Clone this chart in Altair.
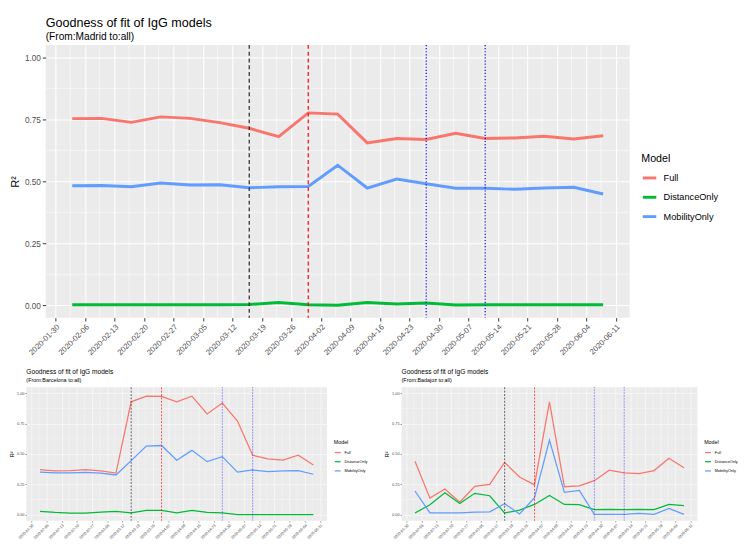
import altair as alt
import pandas as pd

FONT = "Liberation Sans"

dates = ["2020-02-03", "2020-02-10", "2020-02-17", "2020-02-24", "2020-03-02",
         "2020-03-09", "2020-03-16", "2020-03-23", "2020-03-30", "2020-04-06",
         "2020-04-13", "2020-04-20", "2020-04-27", "2020-05-04", "2020-05-11",
         "2020-05-18", "2020-05-25", "2020-06-01", "2020-06-08"]

models = ["Full", "DistanceOnly", "MobilityOnly"]
colors = ["#F8766D", "#00BA38", "#619CFF"]

madrid_full = [0.753, 0.754, 0.738, 0.760, 0.754, 0.737, 0.714, 0.680, 0.776, 0.771,
               0.655, 0.673, 0.669, 0.694, 0.673, 0.675, 0.682, 0.671, 0.684]
madrid_dist = [0.002, 0.002, 0.002, 0.002, 0.002, 0.002, 0.003, 0.011, 0.002, 0.000,
               0.011, 0.005, 0.009, 0.001, 0.002, 0.002, 0.002, 0.002, 0.002]
madrid_mob = [0.482, 0.483, 0.478, 0.493, 0.485, 0.486, 0.474, 0.478, 0.479, 0.565,
              0.473, 0.509, 0.490, 0.472, 0.472, 0.468, 0.473, 0.476, 0.449]

barcelona_full = [0.371, 0.360, 0.363, 0.372, 0.360, 0.343, 0.930, 0.977, 0.974, 0.930,
                  0.977, 0.830, 0.920, 0.772, 0.490, 0.460, 0.450, 0.490, 0.410]
barcelona_dist = [0.026, 0.018, 0.013, 0.013, 0.020, 0.026, 0.015, 0.036, 0.036, 0.015,
                  0.036, 0.018, 0.015, 0.001, 0.000, 0.000, 0.000, 0.000, 0.000]
barcelona_mob = [0.350, 0.345, 0.345, 0.348, 0.343, 0.327, 0.445, 0.565, 0.570, 0.448,
                 0.530, 0.437, 0.478, 0.350, 0.368, 0.355, 0.360, 0.363, 0.333]

badajoz_full = [0.440, 0.136, 0.212, 0.102, 0.233, 0.250, 0.430, 0.310, 0.245, 0.930,
                0.230, 0.238, 0.280, 0.366, 0.345, 0.338, 0.363, 0.465, 0.386]
badajoz_dist = [0.013, 0.082, 0.180, 0.092, 0.176, 0.156, 0.013, 0.038, 0.084, 0.158,
                0.084, 0.082, 0.041, 0.043, 0.041, 0.043, 0.041, 0.084, 0.074]
badajoz_mob = [0.195, 0.015, 0.015, 0.015, 0.020, 0.023, 0.090, 0.005, 0.140, 0.614,
               0.184, 0.200, 0.003, 0.003, 0.003, 0.010, 0.003, 0.051, 0.002]

tick_dates = ["2020-01-30", "2020-02-06", "2020-02-13", "2020-02-20", "2020-02-27",
              "2020-03-05", "2020-03-12", "2020-03-19", "2020-03-26", "2020-04-02",
              "2020-04-09", "2020-04-16", "2020-04-23", "2020-04-30", "2020-05-07",
              "2020-05-14", "2020-05-21", "2020-05-28", "2020-06-04", "2020-06-11"]
y_ticks = [0.0, 0.25, 0.5, 0.75, 1.0]
y_minor = [0.125, 0.375, 0.625, 0.875]

event_black = ["2020-03-16"]
event_red = ["2020-03-30"]
event_blue = ["2020-04-27", "2020-05-11"]


def ms(s):
    return int(pd.Timestamp(s, tz="UTC").value // 10**6)


t0, t1 = ms(dates[0]), ms(dates[-1])
pad = 0.05 * (t1 - t0)
x_domain = [t0 - pad, t1 + pad]
tick_ms = [ms(t) for t in tick_dates]
minor_ms = [(a + b) / 2 for a, b in zip(tick_ms[:-1], tick_ms[1:])]


def panel(city, full, dist, mob, w, h, S):
    rows = []
    for m, vals in zip(models, [full, dist, mob]):
        for d, v in zip(dates, vals):
            rows.append({"date": ms(d), "R2": v, "Model": m})
    df = pd.DataFrame(rows)

    xs = alt.Scale(type="utc", domain=x_domain, nice=False)
    ys = alt.Scale(domain=[-0.05, 1.05], nice=False, zero=False)

    xaxis = alt.Axis(values=tick_ms, labelExpr="utcFormat(datum.value, '%Y-%m-%d')",
                     labelAngle=-45, labelAlign="right", labelBaseline="top",
                     labelFontSize=S["lab"], labelColor="#4D4D4D", labelFont=FONT,
                     tickColor="#333333", tickSize=S["tick"], tickWidth=S["tw"],
                     domain=False, grid=True, gridColor="white", gridWidth=S["grid"],
                     title=None, labelPadding=S["lp"], labelOverlap=False, labelFlush=False)
    yaxis = alt.Axis(values=y_ticks, format=".2f", title="R²", titleFont=FONT,
                     titleFontSize=S["ytitle"], titleFontWeight="normal", titleColor="black",
                     titlePadding=S["tp"],
                     labelFontSize=S["ylab"], labelColor="#4D4D4D", labelFont=FONT,
                     tickColor="#333333", tickSize=S["tick"], tickWidth=S["tw"],
                     domain=False, grid=True, gridColor="white", gridWidth=S["grid"],
                     labelPadding=S["lp"], labelFlush=False)

    X = alt.X("date:T", scale=xs, axis=xaxis)
    Y = alt.Y("R2:Q", scale=ys, axis=yaxis)

    mx = alt.Chart(pd.DataFrame({"date": minor_ms})).mark_rule(
        color="white", strokeWidth=S["minor"]).encode(x=X)
    my = alt.Chart(pd.DataFrame({"R2": y_minor})).mark_rule(
        color="white", strokeWidth=S["minor"]).encode(y=Y)

    lines = alt.Chart(df).mark_line(strokeWidth=S["lw"], strokeCap="butt").encode(
        x=X, y=Y,
        color=alt.Color("Model:N", scale=alt.Scale(domain=models, range=colors),
                        legend=alt.Legend(title="Model", orient="none",
                                          legendX=w + S["lx"], legendY=S["ly"],
                                          titleFont=FONT, titleFontSize=S["lt"],
                                          titleFontWeight="normal", titleColor="black",
                                          labelFont=FONT, labelFontSize=S["ll"],
                                          labelColor="black",
                                          symbolType="stroke", symbolSize=S["ss"],
                                          symbolStrokeWidth=S["sw"],
                                          rowPadding=S["rp"], titlePadding=S["ttp"],
                                          labelOffset=S["lo"])),
        order=alt.Order("date:T"),
    )

    def ev(vals, color, dash):
        return alt.Chart(pd.DataFrame({"date": [ms(v) for v in vals]})).mark_rule(
            color=color, strokeDash=dash, strokeWidth=S["ew"]).encode(x=X)

    layer = alt.layer(
        mx, my, lines,
        ev(event_black, "#222222", S["dash"]),
        ev(event_red, "#FF0000", S["dash"]),
        ev(event_blue, "#0000FF", S["dot"]),
    ).properties(
        width=w, height=h,
        title=alt.Title("Goodness of fit of IgG models",
                        subtitle="(From:" + city + " to:all)",
                        anchor="start", frame="group", font=FONT, subtitleFont=FONT,
                        fontSize=S["t"], subtitleFontSize=S["st"], fontWeight="normal",
                        color="black", subtitleColor="black",
                        offset=S["toff"], subtitlePadding=S["stp"]),
    )
    return layer


BIG = dict(lab=8, ylab=8.5, tick=3.5, tw=1, grid=1.1, minor=0.55, lp=2, ytitle=11, tp=4,
           lx=12, ly=112, lt=11, ll=9.5, ss=196, sw=3, rp=5, ttp=6, lo=6,
           lw=3, ew=1.2, dash=[4, 3], dot=[1.2, 2], t=13, st=10.5, toff=2, stp=2)
SMALL = dict(lab=4, ylab=4, tick=1.5, tw=0.5, grid=0.55, minor=0.28, lp=1, ytitle=6, tp=2,
             lx=7, ly=55, lt=5.5, ll=4, ss=36, sw=1.3, rp=2.5, ttp=3, lo=3,
             lw=1.3, ew=0.7, dash=[2, 1.5], dot=[0.6, 1], t=6.8, st=5.6, toff=4, stp=2)

main = panel("Madrid", madrid_full, madrid_dist, madrid_mob, 604, 282, BIG)
bc = panel("Barcelona", barcelona_full, barcelona_dist, barcelona_mob, 311, 138, SMALL)
bd = panel("Badajoz", badajoz_full, badajoz_dist, badajoz_mob, 306, 138, SMALL)

bottom = alt.hconcat(bc, bd, spacing=16).resolve_scale(color="independent")
chart = alt.vconcat(main, bottom, spacing=12, center=True).resolve_scale(
    color="independent").properties(padding=0, background="white").configure_view(
    fill="#EBEBEB", strokeWidth=0)

chart.save("out.html", embed_options={"renderer": "svg", "actions": False})
